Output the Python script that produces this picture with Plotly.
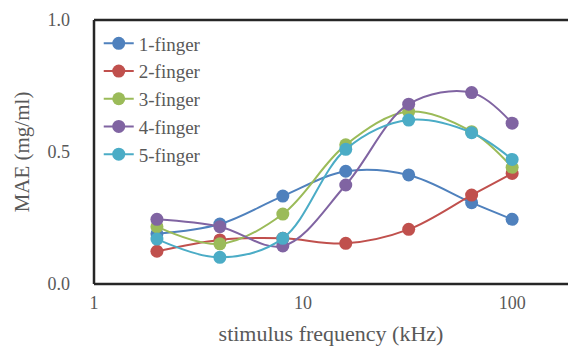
import plotly.graph_objects as go
import math

freq = [2, 4, 8, 16, 32, 64, 100]
names = ["1-finger", "2-finger", "3-finger", "4-finger", "5-finger"]
f1 = [0.190, 0.227, 0.333, 0.427, 0.413, 0.308, 0.245]
f2 = [0.124, 0.167, 0.173, 0.154, 0.207, 0.337, 0.419]
f3 = [0.217, 0.152, 0.265, 0.527, 0.653, 0.577, 0.442]
f4 = [0.245, 0.217, 0.144, 0.375, 0.681, 0.725, 0.609]
f5 = [0.170, 0.101, 0.173, 0.510, 0.621, 0.573, 0.472]
series = [f1, f2, f3, f4, f5]
colors = ["#4F81BD", "#C0504D", "#9BBB59", "#8064A2", "#4BACC6"]

FONT = "Liberation Serif, Times New Roman, serif"
GRAY = "#595959"

fig = go.Figure()
for i, (n, v) in enumerate(zip(names, series)):
    fig.add_trace(go.Scatter(
        x=freq, y=v, name=n, mode="lines+markers",
        line=dict(color=colors[i], width=2, shape="spline"),
        marker=dict(color=colors[i], size=13, line=dict(width=0)),
        legendgroup=n,
    ))

fig.update_layout(
    width=568, height=349,
    margin=dict(l=94, r=0, t=20, b=65),
    paper_bgcolor="white", plot_bgcolor="white",
    font=dict(family=FONT, color=GRAY, size=18),
    showlegend=True,
    legend=dict(x=0.01, y=0.983, xanchor="left", yanchor="top",
                font=dict(family=FONT, size=19, color=GRAY),
                bgcolor="rgba(0,0,0,0)", tracegroupgap=0,
                traceorder="grouped"),
    xaxis=dict(type="log", range=[0, math.log10(185)],
               tickvals=[1, 10, 100], ticktext=["1", "10", "100"],
               showgrid=False, zeroline=False, showline=False,
               ticks="", ticklabelstandoff=6,
               tickfont=dict(family=FONT, size=18, color=GRAY),
               title=dict(text="stimulus frequency (kHz)",
                          font=dict(family=FONT, size=22, color=GRAY),
                          standoff=13)),
    yaxis=dict(range=[0, 1], tickvals=[0, 0.5, 1.0],
               ticktext=["0.0", "0.5", "1.0"],
               showgrid=False, zeroline=False, showline=False,
               ticks="", ticklabelstandoff=23,
               tickfont=dict(family=FONT, size=18, color=GRAY),
               title=dict(text="MAE (mg/ml)",
                          font=dict(family=FONT, size=21, color=GRAY),
                          standoff=12)),
)

frame = dict(color="#262626", width=2.5)
fig.add_shape(type="line", xref="paper", yref="paper", x0=0, x1=1, y0=0, y1=0, line=frame)
fig.add_shape(type="line", xref="paper", yref="paper", x0=0, x1=1, y0=1, y1=1, line=frame)
fig.add_shape(type="line", xref="paper", yref="paper", x0=0, x1=0, y0=0, y1=1, line=frame)

fig.write_html("out.html")
